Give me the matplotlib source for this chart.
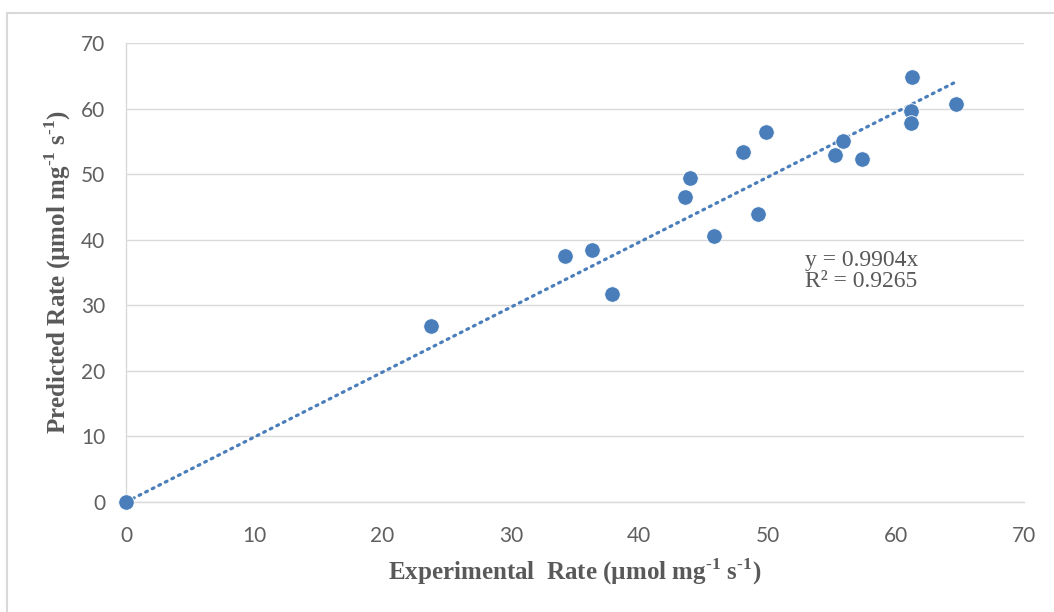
import matplotlib
matplotlib.use("Agg")
import matplotlib.pyplot as plt
from matplotlib.lines import Line2D

experimental = [0, 23.8, 34.2, 36.3, 37.9, 43.6, 44.0, 45.8, 48.1, 49.3, 49.9,
                55.3, 55.9, 57.4, 61.3, 61.2, 61.2, 64.7]
predicted = [0, 26.8, 37.5, 38.4, 31.7, 46.5, 49.4, 40.6, 53.4, 43.9, 56.4,
             52.9, 55.1, 52.3, 64.8, 59.6, 57.8, 60.7]
slope = 0.9904
r2 = 0.9265
xticks = [0, 10, 20, 30, 40, 50, 60, 70]
yticks = [0, 10, 20, 30, 40, 50, 60, 70]

plt.rcParams['mathtext.fontset'] = 'custom'
plt.rcParams['mathtext.rm'] = 'Liberation Serif:bold'
plt.rcParams['mathtext.bf'] = 'Liberation Serif:bold'

blue = '#4A7EBB'
grey_txt = '#595959'

W, H = 1054, 612
fig = plt.figure(figsize=(10.54, 6.12), dpi=100)
ax = fig.add_axes([126/W, 1-502/H, (1024-126)/W, (502-43)/H])

ax.set_xlim(0, 70)
ax.set_ylim(0, 70)
ax.set_xticks(xticks)
ax.set_yticks(yticks)
ax.grid(axis='y', color='#D9D9D9', linewidth=1.0)
ax.set_axisbelow(True)
for s in ['top', 'right']:
    ax.spines[s].set_visible(False)
for s in ['left', 'bottom']:
    ax.spines[s].set_color('#D9D9D9')
    ax.spines[s].set_linewidth(1.0)
ax.tick_params(length=0, labelsize=15, labelcolor='#606060')
ax.tick_params(axis='y', pad=15)
ax.tick_params(axis='x', pad=17)
for lab in ax.get_xticklabels() + ax.get_yticklabels():
    lab.set_fontfamily('Lato')

# trendline
xmax = max(experimental)
ax.plot([0, xmax], [0, slope*xmax], linestyle=(0, (0.6, 1.7)), color=blue,
        linewidth=2.3, dash_capstyle='round', zorder=2)

ax.scatter(experimental, predicted, s=125, color=blue, edgecolors='white',
           linewidths=0.6, zorder=3, clip_on=False)

ax.text(805/W, 1-271/H, f'y = {slope}x\nR² = {r2}', transform=fig.transFigure,
        fontsize=17, family='Liberation Serif', color=grey_txt,
        va='center', ha='left', linespacing=1.0)

sup = r'$^{\text{-1}}$'
fig.text(575/W, 1-572/H,
         'Experimental  Rate (µmol mg' + sup + ' s' + sup + ')',
         fontsize=18, fontweight='bold', family='Liberation Serif',
         color=grey_txt, ha='center', va='center')
fig.text(58/W, 1-272/H,
         'Predicted Rate (µmol mg' + sup + ' s' + sup + ')',
         fontsize=18, fontweight='bold', family='Liberation Serif',
         color=grey_txt, ha='center', va='center', rotation=90)

# chart area border (top and left)
fig.add_artist(Line2D([7/W, 1], [1-13/H, 1-13/H], color='#D9D9D9',
                      linewidth=1.5, transform=fig.transFigure))
fig.add_artist(Line2D([7/W, 7/W], [0, 1-13/H], color='#D9D9D9',
                      linewidth=1.5, transform=fig.transFigure))

fig.savefig('out.png', dpi=100)
